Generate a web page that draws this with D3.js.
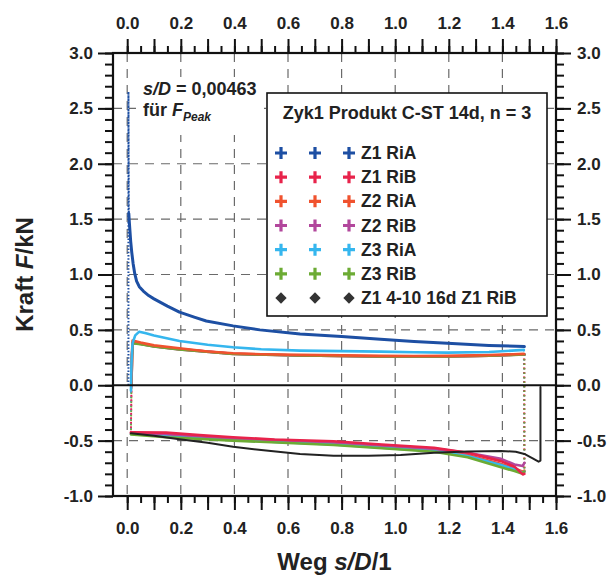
<!DOCTYPE html>
<html>
<head>
<meta charset="utf-8">
<script src="https://cdn.jsdelivr.net/npm/d3@7"></script>
<style>
body { margin: 0; background: #fff; }
svg { display: block; font-family: "Liberation Sans", Arial, sans-serif; font-weight: bold; }
</style>
</head>
<body>
<svg></svg>
<script>
var width = 608;
var height = 581;

// tick labels
var xLabels = [0.0, 0.2, 0.4, 0.6, 0.8, 1.0, 1.2, 1.4, 1.6];
var yLabels = [-1.0, -0.5, 0.0, 0.5, 1.0, 1.5, 2.0, 2.5, 3.0];

// legend
var seriesNames = ["Z1 RiA", "Z1 RiB", "Z2 RiA", "Z2 RiB", "Z3 RiA", "Z3 RiB", "Z1 4-10 16d Z1 RiB"];

// Z1 RiA (peak at s/D = 0,00463)
var z1RiAPeak = [[0.0046, 0.0], [0.0046, 2.65], [0.006, 1.55]];
var z1RiAPush = [[0.006, 1.55], [0.008, 1.47], [0.01, 1.4], [0.013, 1.3], [0.017, 1.2], [0.022, 1.1],
  [0.028, 1.01], [0.035, 0.94], [0.045, 0.89], [0.06, 0.85], [0.08, 0.81], [0.1, 0.78], [0.15, 0.715],
  [0.195, 0.66], [0.25, 0.615], [0.295, 0.58], [0.395, 0.536], [0.495, 0.5], [0.645, 0.463],
  [0.8, 0.44], [0.945, 0.415], [1.07, 0.395], [1.195, 0.379], [1.35, 0.36], [1.482, 0.349]];

// push branches (left -> right)
var z1RiBPush = [[0.016, 0.0], [0.018, 0.28], [0.021, 0.385], [0.05, 0.375], [0.1, 0.352], [0.195, 0.326],
  [0.395, 0.284], [0.645, 0.269], [0.945, 0.261], [1.195, 0.261], [1.35, 0.267], [1.482, 0.28]];
var z2RiAPush = [[0.016, 0.0], [0.018, 0.3], [0.02, 0.403], [0.05, 0.385], [0.1, 0.36], [0.195, 0.334],
  [0.3, 0.305], [0.395, 0.289], [0.5, 0.28], [0.645, 0.274], [0.8, 0.27], [0.945, 0.265],
  [1.07, 0.264], [1.195, 0.265], [1.35, 0.272], [1.48, 0.283]];
var z2RiBPush = [[0.016, 0.0], [0.018, 0.27], [0.021, 0.382], [0.05, 0.372], [0.1, 0.35], [0.195, 0.324],
  [0.395, 0.283], [0.645, 0.268], [0.945, 0.26], [1.195, 0.26], [1.35, 0.266], [1.482, 0.279]];
var z3RiAPush = [[0.014, -0.05], [0.016, 0.2], [0.02, 0.38], [0.03, 0.45], [0.045, 0.484], [0.07, 0.47],
  [0.1, 0.45], [0.195, 0.4], [0.3, 0.365], [0.395, 0.343], [0.5, 0.325], [0.645, 0.313],
  [0.8, 0.308], [0.945, 0.304], [1.07, 0.298], [1.195, 0.295], [1.35, 0.3], [1.48, 0.319]];
var z3RiBPush = [[0.016, 0.0], [0.018, 0.26], [0.021, 0.38], [0.05, 0.37], [0.1, 0.35], [0.195, 0.323],
  [0.395, 0.282], [0.645, 0.268], [0.945, 0.26], [1.195, 0.26], [1.35, 0.266], [1.482, 0.278]];

// pull branches (right -> left)
var z1RiBPull = [[1.482, -0.8], [1.476, -0.805], [1.445, -0.735], [1.395, -0.685], [1.27, -0.61],
  [1.145, -0.565], [0.95, -0.535], [0.77, -0.505], [0.55, -0.49], [0.395, -0.47], [0.27, -0.45],
  [0.145, -0.428], [0.014, -0.425]];
var z2RiAPull = [[1.482, -0.77], [1.476, -0.78], [1.445, -0.75], [1.395, -0.71], [1.27, -0.63],
  [1.145, -0.585], [0.77, -0.525], [0.395, -0.49], [0.145, -0.45], [0.014, -0.435]];
var z2RiBPull = [[1.482, -0.7], [1.476, -0.73], [1.445, -0.715], [1.395, -0.665], [1.27, -0.61],
  [1.145, -0.572], [0.77, -0.515], [0.395, -0.48], [0.145, -0.44], [0.014, -0.43]];
var z3RiAPull = [[1.482, -0.78], [1.476, -0.79], [1.445, -0.76], [1.395, -0.72], [1.27, -0.64],
  [1.145, -0.595], [0.77, -0.535], [0.395, -0.495], [0.145, -0.46], [0.014, -0.44]];
var z3RiBPull = [[1.482, -0.78], [1.47, -0.795], [1.445, -0.775], [1.395, -0.74], [1.27, -0.65],
  [1.145, -0.6], [0.77, -0.54], [0.395, -0.5], [0.145, -0.47], [0.014, -0.445]];

// Z1 4-10 16d Z1 RiB
var z1OldRiB = [[0.014, -0.434], [0.1, -0.455], [0.195, -0.488], [0.3, -0.52], [0.395, -0.555],
  [0.5, -0.585], [0.645, -0.62], [0.77, -0.636], [0.9, -0.637], [1.02, -0.63], [1.145, -0.609],
  [1.27, -0.598], [1.395, -0.594], [1.45, -0.6], [1.482, -0.62], [1.513, -0.66], [1.535, -0.69],
  [1.542, -0.68], [1.542, -0.015]];

var colors = {
  z1RiA: "#1d4fa3",
  z1RiB: "#e8234b",
  z2RiA: "#f0522e",
  z2RiB: "#b2479c",
  z3RiA: "#35b6ee",
  z3RiB: "#6cab34",
  old: "#222222"
};
var legendColors = [colors.z1RiA, colors.z1RiB, colors.z2RiA, colors.z2RiB, colors.z3RiA, colors.z3RiB, colors.old];

var pLeft = 113, pRight = 556, pTop = 53, pBottom = 496;

var svg = d3.select("svg").attr("width", width).attr("height", height);

var x = d3.scaleLinear().domain([-0.053, 1.6]).range([pLeft, pRight]);
var y = d3.scaleLinear().domain([-1.0, 3.0]).range([pBottom, pTop]);

var line = d3.line().x(function(d) { return x(d[0]); }).y(function(d) { return y(d[1]); });

// grid
var grid = svg.append("g").attr("stroke", "#6a6a6a").attr("stroke-width", 1.2).attr("stroke-dasharray", "9,7");
grid.selectAll(".gx").data(xLabels.slice(0, -1)).enter().append("line")
  .attr("x1", function(d) { return x(d); }).attr("x2", function(d) { return x(d); })
  .attr("y1", pTop).attr("y2", pBottom);
grid.selectAll(".gy").data(yLabels.filter(function(d) { return d != 0 && d != 3 && d != -1; })).enter().append("line")
  .attr("y1", function(d) { return y(d); }).attr("y2", function(d) { return y(d); })
  .attr("x1", pLeft).attr("x2", pRight);

// annotation background
svg.append("rect").attr("x", 136).attr("y", 77).attr("width", 128).attr("height", 58).attr("fill", "#fff");

// axes
function fmt(d) { return d.toFixed(1); }
function xMajor(d) { return Math.abs(Math.round(d * 10) % 2) == 0 ? fmt(d) : ""; }
var xTen = d3.range(0, 17).map(function(i) { return i / 10; });
var xTwenty = d3.range(0, 33).map(function(i) { return i / 20; });
var yTen = d3.range(-10, 31).map(function(i) { return i / 10; });

function styleAxis(g) {
  g.select(".domain").remove();
  g.selectAll("line").attr("stroke", "#111").attr("stroke-width", 2);
  g.selectAll("text").attr("font-size", 17).attr("font-weight", "bold").attr("fill", "#222")
    .attr("font-family", "Liberation Sans, Arial, sans-serif");
}

svg.append("g").attr("transform", "translate(0," + pBottom + ")")
  .call(d3.axisBottom(x).tickValues(xTwenty).tickSize(7).tickFormat("")).call(styleAxis);
svg.append("g").attr("transform", "translate(0," + pBottom + ")")
  .call(d3.axisBottom(x).tickValues(xTen).tickSize(14).tickPadding(12).tickFormat(xMajor)).call(styleAxis);
svg.append("g").attr("transform", "translate(0," + pTop + ")")
  .call(d3.axisTop(x).tickValues(xTwenty).tickSize(7).tickFormat("")).call(styleAxis);
svg.append("g").attr("transform", "translate(0," + pTop + ")")
  .call(d3.axisTop(x).tickValues(xTen).tickSize(14).tickPadding(10).tickFormat(xMajor)).call(styleAxis);

svg.append("g").attr("transform", "translate(" + pLeft + ",0)")
  .call(d3.axisLeft(y).tickValues(yTen).tickSize(8).tickFormat("")).call(styleAxis);
svg.append("g").attr("transform", "translate(" + pLeft + ",0)")
  .call(d3.axisLeft(y).tickValues(yLabels).tickSize(15).tickPadding(5).tickFormat(fmt)).call(styleAxis);
svg.append("g").attr("transform", "translate(" + pRight + ",0)")
  .call(d3.axisRight(y).tickValues(yTen).tickSize(8).tickFormat("")).call(styleAxis);
svg.append("g").attr("transform", "translate(" + pRight + ",0)")
  .call(d3.axisRight(y).tickValues(yLabels).tickSize(15).tickPadding(6).tickFormat(fmt)).call(styleAxis);

// curves: pull branches first, then push branches
var curves = svg.append("g").attr("fill", "none").attr("stroke-linejoin", "round").attr("stroke-linecap", "round");

function draw(data, color, w) {
  curves.append("path").datum(data).attr("d", line).attr("stroke", color).attr("stroke-width", w);
}
// fast load reversals: few samples, shown as a dotted line
function jump(a, b, color) {
  curves.append("path").datum([a, b]).attr("d", line).attr("stroke", color)
    .attr("stroke-width", 1.8).attr("stroke-dasharray", "1.5,3").attr("stroke-linecap", "butt");
}
function first(a) { return a[0]; }
function last(a) { return a[a.length - 1]; }

var loops = [
  [z2RiAPush, z2RiAPull, colors.z2RiA],
  [z3RiAPush, z3RiAPull, colors.z3RiA],
  [z2RiBPush, z2RiBPull, colors.z2RiB],
  [z1RiBPush, z1RiBPull, colors.z1RiB],
  [z3RiBPush, z3RiBPull, colors.z3RiB]
];

// reversals
loops.forEach(function(l) {
  jump(last(l[1]), first(l[0]), l[2]);
  jump(last(l[0]), first(l[1]), l[2]);
});

draw(z2RiAPull, colors.z2RiA, 2.6);
draw(z3RiAPull, colors.z3RiA, 2.6);
draw(z2RiBPull, colors.z2RiB, 2.6);
draw(z3RiBPull, colors.z3RiB, 2.6);
draw(z1RiBPull, colors.z1RiB, 2.6);
draw(z1OldRiB, colors.old, 2);

draw(z1RiBPush, colors.z1RiB, 2.6);
draw(z2RiBPush, colors.z2RiB, 2.6);
draw(z3RiBPush, colors.z3RiB, 2.6);
draw(z2RiAPush, colors.z2RiA, 2.6);
draw(z3RiAPush, colors.z3RiA, 2.6);

curves.append("path").datum(z1RiAPeak).attr("d", line).attr("stroke", colors.z1RiA)
  .attr("stroke-width", 2).attr("stroke-dasharray", "1.5,1.8").attr("stroke-linecap", "butt");
draw(z1RiAPush, colors.z1RiA, 3);

// zero line and frame
svg.append("line").attr("x1", pLeft).attr("x2", pRight).attr("y1", y(0)).attr("y2", y(0))
  .attr("stroke", "#111").attr("stroke-width", 2.2);
svg.append("rect").attr("x", pLeft).attr("y", pTop).attr("width", pRight - pLeft).attr("height", pBottom - pTop)
  .attr("fill", "none").attr("stroke", "#111").attr("stroke-width", 2.2);

// annotation
var ann = svg.append("text").attr("x", 143).attr("y", 95).attr("font-size", 18).attr("fill", "#222");
ann.append("tspan").attr("font-style", "italic").text("s/D");
ann.append("tspan").text(" = 0,00463");
var ann2 = svg.append("text").attr("x", 143).attr("y", 116).attr("font-size", 18).attr("fill", "#222");
ann2.append("tspan").text("für ");
ann2.append("tspan").attr("font-style", "italic").text("F");
ann2.append("tspan").attr("font-style", "italic").attr("font-size", 12).attr("dy", 5).text("Peak");

// legend
var lg = svg.append("g");
lg.append("rect").attr("x", 267).attr("y", 93).attr("width", 280).attr("height", 223)
  .attr("fill", "#fff").attr("stroke", "#111").attr("stroke-width", 1.6);
lg.append("text").attr("x", 407).attr("y", 119).attr("text-anchor", "middle").attr("font-size", 18)
  .attr("fill", "#222").text("Zyk1 Produkt C-ST 14d, n = 3");

var rowY = d3.scalePoint().domain(seriesNames).range([153, 298]);
var markX = [281, 315, 349];
seriesNames.forEach(function(name, i) {
  var cy = rowY(name);
  markX.forEach(function(mx) {
    if (i < 6) {
      lg.append("path").attr("d", "M-6,0H6M0,-6V6").attr("transform", "translate(" + mx + "," + cy + ")")
        .attr("stroke", legendColors[i]).attr("stroke-width", 3.2).attr("fill", "none");
    } else {
      lg.append("path").attr("d", d3.symbol().type(d3.symbolSquare).size(64))
        .attr("transform", "translate(" + mx + "," + cy + ") rotate(45)").attr("fill", "#333");
    }
  });
  lg.append("text").attr("x", 361).attr("y", cy + 6).attr("font-size", 17.5).attr("fill", "#222").text(name);
});

// axis titles
var xt = svg.append("text").attr("x", (pLeft + pRight) / 2).attr("y", 570).attr("text-anchor", "middle")
  .attr("font-size", 24).attr("fill", "#222");
xt.append("tspan").text("Weg ");
xt.append("tspan").attr("font-style", "italic").text("s/D");
xt.append("tspan").text("/1");

var yt = svg.append("text").attr("transform", "translate(33," + (pTop + pBottom) / 2 + ") rotate(-90)")
  .attr("text-anchor", "middle").attr("font-size", 24).attr("fill", "#222");
yt.append("tspan").text("Kraft ");
yt.append("tspan").attr("font-style", "italic").text("F");
yt.append("tspan").text("/kN");
</script>
</body>
</html>
